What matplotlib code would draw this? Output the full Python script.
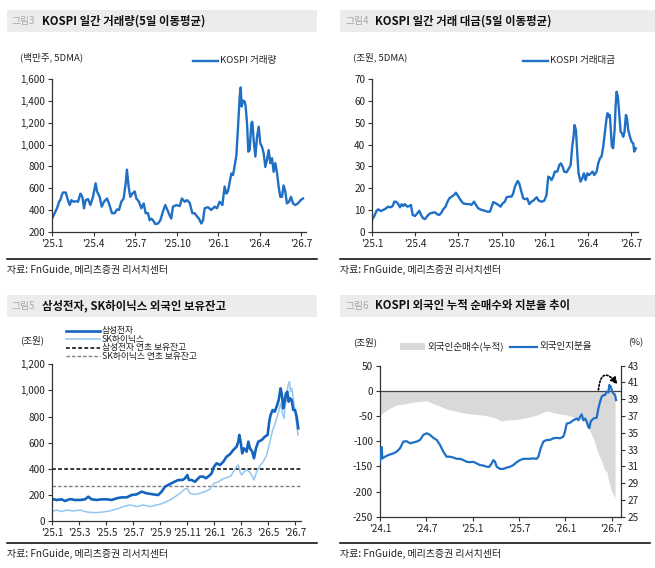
import matplotlib
matplotlib.use('Agg')
import matplotlib.pyplot as plt
from matplotlib.lines import Line2D
from matplotlib.patches import Rectangle

plt.rcParams['font.family'] = ['Noto Sans CJK KR', 'DejaVu Sans']
plt.rcParams['axes.unicode_minus'] = False

# ---- data (x = months since start of chart) ----
# fig3: KOSPI volume, 5DMA (million shares), months since 2025.1
vol_m = [0.00,0.19,0.36,0.51,0.60,0.70,0.79,0.99,1.15,1.28,
         1.40,1.56,1.71,1.88,2.05,2.19,2.31,2.43,2.60,2.77,
         2.96,3.15,3.25,3.44,3.59,3.75,3.97,4.11,4.33,4.52,
         4.69,4.84,5.00,5.17,5.32,5.41,5.53,5.65,5.80,5.97,
         6.09,6.28,6.45,6.62,6.76,6.93,7.05,7.17,7.29,7.46,
         7.65,7.82,8.01,8.18,8.33,8.49,8.61,8.73,8.97,9.22,
         9.38,9.58,9.75,9.94,10.13,10.30,10.47,10.61,10.78,10.90,
         11.02,11.26,11.50,11.74,11.91,12.10,12.30,12.46,12.58,12.70,
         12.82,12.95,13.07,13.19,13.31,13.43,13.55,13.62,13.69,13.79,
         13.91,13.98,14.08,14.17,14.27,14.39,14.46,14.56,14.68,14.80,
         14.92,15.04,15.16,15.28,15.40,15.52,15.64,15.76,15.88,16.00,
         16.12,16.25,16.36,16.48,16.60,16.72,16.84,16.96,17.11,17.25,
         17.40,17.56,17.76,17.95,18.12]
vol = [320,370,415,475,490,535,560,560,490,445,
       490,475,480,475,550,520,415,490,500,445,
       520,645,570,520,430,475,505,460,370,370,
       405,400,475,505,645,770,615,520,550,570,
       505,475,415,460,370,370,305,320,305,270,
       275,305,385,445,400,350,320,430,445,435,
       505,475,490,465,370,370,340,320,275,305,
       415,425,400,430,415,475,445,615,550,570,
       650,735,720,810,900,1165,1440,1525,1350,1405,
       1395,1350,1195,935,950,1195,1210,1040,890,1070,
       1165,1010,980,920,795,860,950,830,875,750,
       830,735,615,520,520,625,570,460,475,520,
       460,445,460,490,505]

# fig4: KOSPI trading value, 5DMA (trn won)
amt_m = [0,0.14,0.30,0.42,0.58,0.77,0.95,1.11,1.28,1.42,
         1.53,1.65,1.81,1.93,2.04,2.16,2.27,2.44,2.58,2.69,
         2.81,2.97,3.13,3.27,3.39,3.55,3.67,3.83,4.01,4.20,
         4.36,4.52,4.66,4.78,4.94,5.10,5.24,5.36,5.52,5.68,
         5.82,5.99,6.15,6.33,6.57,6.75,6.91,7.08,7.22,7.38,
         7.61,7.84,8.00,8.19,8.31,8.42,8.61,8.77,8.93,9.07,
         9.23,9.35,9.51,9.70,9.81,9.93,10.12,10.23,10.35,10.51,
         10.67,10.79,10.93,11.09,11.25,11.44,11.60,11.79,11.97,12.13,
         12.25,12.37,12.48,12.60,12.71,12.88,13.02,13.13,13.25,13.36,
         13.53,13.69,13.81,13.92,14.01,14.08,14.18,14.27,14.36,14.50,
         14.62,14.73,14.85,14.97,15.08,15.22,15.34,15.45,15.62,15.73,
         15.85,15.96,16.08,16.19,16.31,16.38,16.45,16.54,16.61,16.68,
         16.77,16.87,16.94,17.01,17.10,17.19,17.29,17.38,17.47,17.56,
         17.66,17.73,17.82,17.94,18.05,18.17,18.24,18.35]
amt = [5.7,7.2,9.6,10.3,9.5,10.0,10.7,11.5,11.2,11.8,
       13.8,13.8,12.7,11.2,12.6,11.8,12.7,11.5,11.8,12.3,
       7.7,7.2,8.4,9.6,7.7,6.1,5.8,7.2,8.4,8.7,
       8.9,8.0,7.7,8.4,10.3,11.5,13.8,15.3,16.1,16.8,
       17.9,16.1,14.5,13.0,12.7,12.7,12.3,13.8,12.3,10.7,
       10.0,9.6,9.2,9.2,11.5,13.6,13.0,12.3,11.5,13.0,
       13.8,15.8,16.1,16.1,17.6,20.7,23.3,22.2,19.1,15.3,
       14.9,15.3,12.7,13.8,14.5,15.8,14.2,13.8,14.2,16.8,
       25.3,24.8,23.7,25.3,27.6,27.6,30.6,31.4,29.9,27.6,
       27.3,29.1,30.6,39.1,43.6,49.0,46.7,36.0,26.8,23.0,
       24.5,26.8,23.7,26.8,26.0,26.8,27.6,26.0,27.6,31.4,
       33.7,34.5,39.1,45.2,52.1,54.4,52.8,53.6,46.7,39.1,
       38.3,46.7,57.4,64.3,62.0,54.4,45.9,45.2,43.6,45.9,
       53.6,52.1,46.7,43.6,41.3,40.6,36.8,38.3]

# fig5: foreign holdings (trn won)
sec_m = [0,0.32,0.69,0.94,1.31,1.68,2.05,2.42,2.67,2.91,
         3.28,3.65,4.02,4.40,4.77,5.14,5.51,5.88,6.25,6.62,
         6.99,7.48,7.85,8.10,8.35,8.59,8.96,9.33,9.65,9.83,
         10.00,10.12,10.32,10.57,10.77,10.94,11.19,11.38,11.63,11.80,
         11.98,12.17,12.42,12.67,12.91,13.16,13.41,13.65,13.78,13.85,
         13.95,14.07,14.20,14.40,14.52,14.64,14.81,14.94,15.09,15.26,
         15.51,15.75,15.95,16.07,16.17,16.32,16.47,16.62,16.77,16.91,
         17.01,17.11,17.21,17.31,17.41,17.51,17.60,17.73,17.85,17.98,
         18.10,18.22]
sec = [168,161,166,153,168,161,161,166,186,166,
       161,166,166,161,174,181,181,199,204,225,
       212,204,199,225,263,276,296,314,314,327,
       352,314,314,301,322,340,340,327,347,365,
       416,442,429,454,493,511,544,569,608,659,
       608,518,557,531,608,557,531,480,557,608,
       620,646,659,761,812,850,837,876,927,1016,
       965,863,914,978,990,914,940,927,850,850,
       799,710]
skh_m = [0,0.32,0.69,1.06,1.56,2.05,2.42,2.79,3.28,3.78,
         4.27,4.77,5.26,5.75,6.25,6.74,7.23,7.73,7.98,8.35,
         8.72,9.09,9.46,9.83,10.00,10.20,10.57,10.94,11.31,11.68,
         11.98,12.30,12.62,12.91,13.23,13.41,13.65,13.78,13.90,14.02,
         14.22,14.40,14.59,14.77,14.94,15.14,15.33,15.63,15.88,16.12,
         16.32,16.47,16.62,16.77,16.91,17.06,17.16,17.26,17.36,17.46,
         17.56,17.65,17.75,17.85,17.98,18.10,18.20]
skh = [72,84,72,84,77,84,72,66,64,69,
       77,92,110,123,110,123,110,123,128,143,
       161,186,212,245,250,212,204,212,225,245,
       288,301,322,332,345,378,416,429,378,352,
       378,391,378,352,314,378,416,454,506,608,
       697,735,786,837,901,825,786,888,940,1042,
       1067,990,1016,940,837,735,659]
sec_start = 400
skh_start = 265

# fig6: foreign cumulative net buy (trn won) and ownership (%), months since 2024.1
net_m = [0,0.86,2.16,3.45,4.75,6.04,7.34,8.63,9.93,11.22,
         12.52,13.81,15.11,15.75,16.40,17.70,18.99,20.28,21.58,22.87,
         24.17,25.46,26.33,26.97,27.62,28.27,28.70,28.92,29.18,29.35,
         29.56,30.00,30.43]
net = [-48,-38,-28,-25,-21.5,-20,-28,-36,-41,-45,
       -47,-49,-55,-60,-58,-57,-53,-48,-40,-45,
       -48,-54,-60,-72,-95,-125,-140,-150,-160,-158,
       -177,-200,-212]
own_m = [0,0.09,0.22,0.30,0.65,1.08,1.73,2.16,2.59,3.02,
         3.45,3.88,4.32,4.75,5.18,5.61,6.04,6.47,6.91,7.34,
         7.77,8.20,8.63,9.06,9.50,9.93,10.36,10.79,11.22,11.65,
         12.08,12.52,12.95,13.38,13.81,14.16,14.46,14.67,14.89,15.11,
         15.54,15.97,16.40,16.83,17.26,17.70,18.13,18.56,18.99,19.42,
         19.85,20.28,20.50,20.80,21.15,21.58,22.01,22.44,22.87,23.31,
         23.74,23.95,24.17,24.60,25.03,25.46,25.68,25.90,26.11,26.33,
         26.54,26.76,26.97,27.10,27.28,27.62,28.05,28.27,28.49,28.70,
         28.92,29.13,29.35,29.56,29.69,29.87,30.04,30.21,30.43,30.56]
own = [31.56,31.95,33.3,31.95,32.15,32.35,32.55,32.75,33.15,33.95,
       34.0,33.75,33.85,33.95,34.15,34.75,34.95,34.75,34.4,34.15,
       33.55,32.75,32.15,32.15,32.05,31.9,31.9,31.75,31.55,31.5,
       31.55,31.35,31.15,31.1,30.95,30.95,31.35,31.75,31.55,30.95,
       30.7,30.7,30.85,30.95,31.15,31.5,31.75,31.9,31.9,31.9,
       31.95,31.9,32.15,33.15,33.95,34.15,34.15,34.35,34.4,34.35,
       34.55,35.15,36.1,36.2,36.5,36.7,36.5,36.9,37.2,36.5,
       36.7,36.35,35.7,35.55,36.35,36.7,36.8,37.9,38.7,39.3,
       39.5,39.5,39.9,39.8,40.7,40.5,40.0,39.7,39.5,38.9]

# ticks
q_ticks = [0,3,6,9,12,15,18]
q_labels = ["'25.1","'25.4","'25.7","'25.10","'26.1","'26.4","'26.7"]
b_ticks = [0,2,4,6,8,10,12,14,16,18]
b_labels = ["'25.1","'25.3","'25.5","'25.7","'25.9","'25.11","'26.1","'26.3","'26.5","'26.7"]
h_ticks = [0,6,12,18,24,30]
h_labels = ["'24.1","'24.7","'25.1","'25.7","'26.1","'26.7"]

BLUE = '#1f6fc5'
DARK = '#1464bf'
LIGHT = '#94c6f0'
GRAY = '#d9d9d9'
TXT = '#222222'
TICK_FS = 7.2
SMALL_FS = 6.9

W, H = 655, 568
def fx(x): return x / W
def fy(y): return 1 - y / H

fig = plt.figure(figsize=(6.55, 5.68), dpi=100)

def new_axes(l, r, t, b):
    return fig.add_axes([fx(l), fy(b), fx(r) - fx(l), fy(t) - fy(b)])

def style(ax):
    for s in ['top', 'right']:
        ax.spines[s].set_visible(False)
    for s in ['left', 'bottom']:
        ax.spines[s].set_color('#333333')
        ax.spines[s].set_linewidth(0.9)
    ax.tick_params(direction='out', length=3, width=0.8, color='#333333',
                   labelsize=TICK_FS, labelcolor=TXT, pad=2)
    ax.set_facecolor('none')

def header(x0, x1, y0, y1, num, title):
    fig.add_artist(Rectangle((fx(x0), fy(y1)), fx(x1) - fx(x0), fy(y0) - fy(y1),
                             transform=fig.transFigure, color='#ececec', lw=0, zorder=0))
    yc = fy((y0 + y1) / 2)
    fig.text(fx(x0 + 5), yc, num, color='#a8a8a8', fontsize=7, va='center')
    fig.text(fx(x0 + 35), yc, title, color='#111111', fontsize=8.2,
             fontweight='bold', va='center')

def source(x0, x1, y):
    fig.add_artist(Line2D([fx(x0), fx(x1)], [fy(y), fy(y)], color='black', lw=1.1,
                          transform=fig.transFigure))
    fig.text(fx(x0), fy(y + 11), '자료: FnGuide, 메리츠증권 리서치센터',
             fontsize=7.2, color=TXT, va='center')

def leg_line(x0, x1, y, text, fs=SMALL_FS, **kw):
    fig.add_artist(Line2D([fx(x0), fx(x1)], [fy(y), fy(y)], transform=fig.transFigure, **kw))
    fig.text(fx(x1 + 2), fy(y), text, fontsize=fs, color=TXT, va='center')

def comma(v):
    return f'{v:,}'

# ---------- fig3 ----------
header(7, 317, 10, 32, '그림3', 'KOSPI 일간 거래량(5일 이동평균)')
ax1 = new_axes(52, 305.5, 79.3, 231.7)
style(ax1)
ax1.plot(vol_m, vol, color=BLUE, lw=1.7)
ax1.set_xlim(0, 18.3)
ax1.set_ylim(200, 1600)
ax1.set_yticks(range(200, 1601, 200))
ax1.set_yticklabels([comma(v) for v in range(200, 1601, 200)])
ax1.set_xticks(q_ticks)
ax1.set_xticklabels(q_labels)
fig.text(fx(20), fy(57), '(백만주, 5DMA)', fontsize=SMALL_FS, color=TXT, va='center')
leg_line(193, 218, 61, 'KOSPI 거래량', color=BLUE, lw=1.7)
source(7, 317, 259)

# ---------- fig4 ----------
header(340, 655, 10, 32, '그림4', 'KOSPI 일간 거래 대금(5일 이동평균)')
ax2 = new_axes(372.3, 638, 79.3, 231.7)
style(ax2)
ax2.plot(amt_m, amt, color=BLUE, lw=1.7)
ax2.set_xlim(0, 18.5)
ax2.set_ylim(0, 70)
ax2.set_yticks(range(0, 71, 10))
ax2.set_xticks(q_ticks)
ax2.set_xticklabels(q_labels)
fig.text(fx(352.7), fy(57), '(조원, 5DMA)', fontsize=SMALL_FS, color=TXT, va='center')
leg_line(522.7, 548.3, 61, 'KOSPI 거래대금', color=BLUE, lw=1.7)
source(340, 650, 259)

# ---------- fig5 ----------
header(7, 317, 295, 317, '그림5', '삼성전자, SK하이닉스 외국인 보유잔고')
ax3 = new_axes(52.3, 300.7, 364.3, 521)
style(ax3)
ax3.axhline(sec_start, color='black', lw=1.1, ls=(0, (2.5, 1.5)))
ax3.axhline(skh_start, color='#808080', lw=1.0, ls=(0, (2.5, 1.5)))
ax3.plot(skh_m, skh, color=LIGHT, lw=1.1)
ax3.plot(sec_m, sec, color=DARK, lw=1.9)
ax3.set_xlim(0, 18.4)
ax3.set_ylim(0, 1200)
ax3.set_yticks(range(0, 1201, 200))
ax3.set_yticklabels([comma(v) for v in range(0, 1201, 200)])
ax3.set_xticks(b_ticks)
ax3.set_xticklabels(b_labels)
fig.text(fx(20), fy(340), '(조원)', fontsize=SMALL_FS, color=TXT, va='center')
leg_line(66, 100, 331, '삼성전자', fs=6.3, color=DARK, lw=1.9)
leg_line(66, 100, 339.3, 'SK하이닉스', fs=6.3, color=LIGHT, lw=1.1)
leg_line(66, 100, 347.7, '삼성전자 연초 보유잔고', fs=6.3, color='black', lw=1.1, ls=(0, (2.5, 1.5)))
leg_line(66, 100, 356, 'SK하이닉스 연초 보유잔고', fs=6.3, color='#808080', lw=1.0, ls=(0, (2.5, 1.5)))
source(7, 317, 543.3)

# ---------- fig6 ----------
header(340, 655, 295, 317, '그림6', 'KOSPI 외국인 누적 순매수와 지분율 추이')
ax4 = new_axes(380, 621, 365.7, 516.7)
style(ax4)
ax4.fill_between(net_m, net, 0, color=GRAY, lw=0)
ax4.axhline(0, color='#444444', lw=0.9)
ax4.set_xlim(0, 31.2)
ax4.set_ylim(-250, 50)
ax4.set_yticks(range(-250, 51, 50))
ax4.set_xticks(h_ticks)
ax4.set_xticklabels(h_labels)
ax4.annotate('', xy=(30.74, 13), xytext=(28.28, 2),
             arrowprops=dict(arrowstyle='-|>', color='black', lw=1.2, ls=(0, (1, 1.2)),
                             connectionstyle='arc3,rad=-1.2', shrinkA=0, shrinkB=0,
                             mutation_scale=10))
ax4r = ax4.twinx()
for s in ['top', 'left', 'bottom']:
    ax4r.spines[s].set_visible(False)
ax4r.spines['right'].set_color('#333333')
ax4r.spines['right'].set_linewidth(0.9)
ax4r.tick_params(direction='out', length=3, width=0.8, color='#333333',
                 labelsize=TICK_FS, labelcolor=TXT, pad=2)
ax4r.plot(own_m, own, color=BLUE, lw=1.6)
ax4r.set_ylim(25, 43)
ax4r.set_yticks(range(25, 44, 2))
fig.text(fx(352.7), fy(342.3), '(조원)', fontsize=SMALL_FS, color=TXT, va='center')
fig.text(fx(627.7), fy(342.3), '(%)', fontsize=SMALL_FS, color=TXT, va='center')
fig.add_artist(Rectangle((fx(400), fy(350)), fx(425) - fx(400), fy(343) - fy(350),
                         transform=fig.transFigure, color=GRAY, lw=0))
fig.text(fx(427), fy(346.7), '외국인순매수(누적)', fontsize=SMALL_FS, color=TXT, va='center')
leg_line(510, 537, 346.7, '외국인지분율', color=BLUE, lw=1.6)
source(340, 650, 543.3)

fig.savefig('out.png', dpi=100)
